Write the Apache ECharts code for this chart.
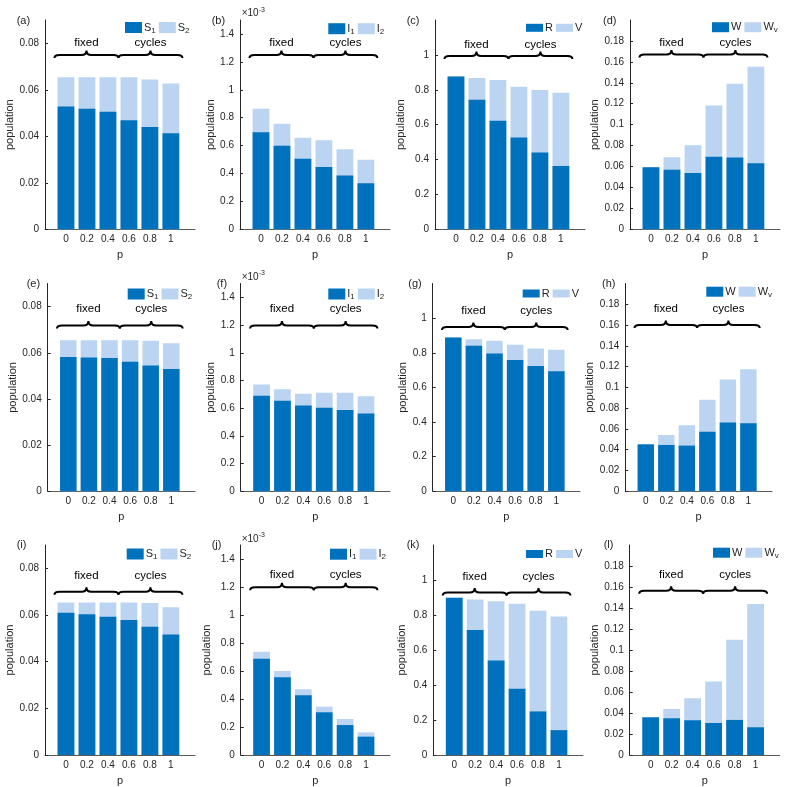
<!DOCTYPE html>
<html><head><meta charset="utf-8">
<script src="https://cdn.jsdelivr.net/npm/echarts@6/dist/echarts.min.js"></script>
<style>html,body{margin:0;padding:0;background:#fff}#c{width:787px;height:787px}</style>
</head><body><div id="c"></div>
<script>
// ---------------- data ----------------
const pValues = [0, 0.2, 0.4, 0.6, 0.8, 1];
const pTicks = [0, 0.2, 0.4, 0.6, 0.8, 1];
const yTicksS = [0, 0.02, 0.04, 0.06, 0.08];
const yTicksI = [0, 0.2, 0.4, 0.6, 0.8, 1, 1.2, 1.4];
const yTicksRV = [0, 0.2, 0.4, 0.6, 0.8, 1];
const yTicksW = [0, 0.02, 0.04, 0.06, 0.08, 0.1, 0.12, 0.14, 0.16, 0.18];
const groupLabels = ['fixed', 'cycles'];

// row 1
const aS1 = [0.0528, 0.0518, 0.0506, 0.0469, 0.0440, 0.0413];
const aS2 = [0.0126, 0.0136, 0.0148, 0.0185, 0.0204, 0.0214];
const bI1 = [0.696, 0.598, 0.505, 0.447, 0.385, 0.330];   // x 10^-3
const bI2 = [0.168, 0.158, 0.151, 0.192, 0.189, 0.168];   // x 10^-3
const cR = [0.876, 0.743, 0.622, 0.527, 0.441, 0.363];
const cV = [0, 0.124, 0.234, 0.290, 0.357, 0.420];
const dW = [0.0594, 0.0568, 0.0539, 0.0693, 0.0686, 0.0632];
const dWv = [0, 0.0121, 0.0265, 0.0491, 0.0706, 0.0922];
// row 2
const eS1 = [0.0582, 0.0579, 0.0577, 0.0561, 0.0545, 0.0530];
const eS2 = [0.0072, 0.0075, 0.0077, 0.0093, 0.0107, 0.0111];
const fI1 = [0.689, 0.653, 0.620, 0.603, 0.586, 0.562];
const fI2 = [0.082, 0.084, 0.084, 0.108, 0.125, 0.125];
const gR = [0.888, 0.840, 0.796, 0.758, 0.724, 0.693];
const gV = [0, 0.038, 0.073, 0.088, 0.101, 0.124];
const hW = [0.0452, 0.0446, 0.0440, 0.0574, 0.0661, 0.0654];
const hWv = [0, 0.0096, 0.0195, 0.0308, 0.0414, 0.0520];
// row 3
const iS1 = [0.0610, 0.0603, 0.0593, 0.0579, 0.0550, 0.0516];
const iS2 = [0.0044, 0.0051, 0.0061, 0.0075, 0.0101, 0.0117];
const jI1 = [0.688, 0.555, 0.426, 0.305, 0.214, 0.131];
const jI2 = [0.050, 0.045, 0.043, 0.040, 0.043, 0.031];
const kR = [0.898, 0.715, 0.540, 0.379, 0.249, 0.142];
const kV = [0, 0.174, 0.339, 0.485, 0.576, 0.650];
const lW = [0.0359, 0.0350, 0.0331, 0.0305, 0.0334, 0.0264];
const lWv = [0, 0.0089, 0.0210, 0.0395, 0.0763, 0.1174];

// ---------------- panels ----------------
const panelDefs = [
  {tag:'(a)', names:['S1','S2'], series:[aS1,aS2], ticks:yTicksS,  ymax:0.09},
  {tag:'(b)', names:['I1','I2'], series:[bI1,bI2], ticks:yTicksI,  ymax:1.5, exp:true},
  {tag:'(c)', names:['R','V'],   series:[cR,cV],   ticks:yTicksRV, ymax:1.2},
  {tag:'(d)', names:['W','Wv'],  series:[dW,dWv],  ticks:yTicksW,  ymax:0.2},
  {tag:'(e)', names:['S1','S2'], series:[eS1,eS2], ticks:yTicksS,  ymax:0.09},
  {tag:'(f)', names:['I1','I2'], series:[fI1,fI2], ticks:yTicksI,  ymax:1.5, exp:true},
  {tag:'(g)', names:['R','V'],   series:[gR,gV],   ticks:yTicksRV, ymax:1.2},
  {tag:'(h)', names:['W','Wv'],  series:[hW,hWv],  ticks:yTicksW,  ymax:0.2},
  {tag:'(i)', names:['S1','S2'], series:[iS1,iS2], ticks:yTicksS,  ymax:0.09},
  {tag:'(j)', names:['I1','I2'], series:[jI1,jI2], ticks:yTicksI,  ymax:1.5, exp:true},
  {tag:'(k)', names:['R','V'],   series:[kR,kV],   ticks:yTicksRV, ymax:1.2},
  {tag:'(l)', names:['W','Wv'],  series:[lW,lWv],  ticks:yTicksW,  ymax:0.2}
];

// ---------------- layout (pixels / annotation levels) ----------------
const layouts = [
  {box:[45,20,195,229.3],      gap:26, tag:[16.7,21.7],  leg:[125,27.5,11],   br:[0.075,0.080],  ex:[241.7,6.3]},
  {box:[240,20,390,229.3],     gap:21, tag:[211.7,21.7], leg:[328.3,28.7,11], br:[1.25,1.335],   ex:[241.7,6.3]},
  {box:[435,20,585,229.3],     gap:29, tag:[406.7,21.7], leg:[526,26.3,8],    br:[0.994,1.06],   ex:null},
  {box:[630,20,780,229.3],     gap:25, tag:[603,21.7],   leg:[712,26.7,10],   br:[0.167,0.178],  ex:null},
  {box:[47.7,283.5,195,491.3], gap:26, tag:[26.7,284.7], leg:[127.7,294,11],  br:[0.0718,0.079], ex:null},
  {box:[240.7,283.5,390,491.3],gap:22, tag:[216.7,284.7],leg:[328.3,294,11],  br:[1.196,1.315],  ex:[241.7,270]},
  {box:[432.7,283.5,580,491.3],gap:21, tag:[408.3,284.7],leg:[522.7,292,8],   br:[0.949,1.043],  ex:null},
  {box:[625.3,283.5,772,491.3],gap:24, tag:[602,284.7],  leg:[706.3,291.2,10],br:[0.16,0.1756],  ex:null},
  {box:[45,545,195,755],       gap:26, tag:[16.7,545.7], leg:[126.7,554,11],  br:[0.070,0.077],  ex:null},
  {box:[240.7,545,390,755],    gap:28, tag:[211.7,545.7],leg:[330,554.2,11],  br:[1.198,1.286],  ex:[241.7,532]},
  {box:[433.3,545,583,755],    gap:26, tag:[406.7,545.7],leg:[526,552.5,8],   br:[0.929,1.02],   ex:null},
  {box:[629.7,545,779.7,755],  gap:25, tag:[603.7,545.7],leg:[713,552.2,10],  br:[0.1565,0.172], ex:null}
];
const braceSpans = [[-0.11, 0.5], [0.5, 1.11]];
const X_MIN = -0.2, X_MAX = 1.23;

const FONT = '"Liberation Sans", Arial, Helvetica, sans-serif';
const TXT = '#262626';
const DARK = '#0072BD', LIGHT = '#BAD4F1';
const subs = {S1:['S','1'], S2:['S','2'], I1:['I','1'], I2:['I','2'], R:['R',''], V:['V',''], W:['W',''], Wv:['W','v']};
const fmt = v => String(parseFloat(Number(v).toFixed(4)));

function renderBrace(params, api) {
  const x0 = api.value(0), x1 = api.value(1), yb = api.value(2), yt = api.value(3), gi = api.value(4);
  const p0 = api.coord([x0, yb]), p1 = api.coord([x1, yb]), pt = api.coord([(x0 + x1) / 2, yt]);
  const L = p0[0], R = p1[0], M = (L + R) / 2, y = p0[1], hu = 4.5, hd = 3, w = 5;
  const d = `M${L},${y+hd} Q${L},${y} ${L+w},${y} L${M-w},${y} Q${M},${y} ${M},${y-hu} Q${M},${y} ${M+w},${y} L${R-w},${y} Q${R},${y} ${R},${y+hd}`;
  return {type:'group', children:[
    {type:'path', shape:{pathData:d}, style:{fill:null, stroke:'#000', lineWidth:2}},
    {type:'text', x:pt[0], y:pt[1], style:{text:groupLabels[gi], fill:'#000', font:'11.5px ' + FONT, align:'center', verticalAlign:'middle'}}
  ]};
}

const option = {animation:false, backgroundColor:'#fff', grid:[], xAxis:[], yAxis:[], series:[], legend:[], title:[]};

panelDefs.forEach((pd, k) => {
  const Lo = layouts[k];
  const [x0, y0, x1, y1] = Lo.box;
  const w = x1 - x0;
  option.grid.push({left:x0, top:y0, width:w, height:y1 - y0, containLabel:false, outerBoundsMode:'none'});
  option.xAxis.push({
    gridIndex:k, type:'value', min:X_MIN, max:X_MAX,
    name:'p', nameLocation:'middle', nameGap:20,
    nameTextStyle:{fontSize:11, color:TXT, fontFamily:FONT},
    axisLine:{show:true, onZero:false, lineStyle:{color:'#595959', width:1}},
    axisTick:{show:false}, splitLine:{show:false},
    axisLabel:{customValues:pTicks, formatter:fmt, fontSize:10, color:TXT, margin:5, fontFamily:FONT}
  });
  option.yAxis.push({
    gridIndex:k, type:'value', min:0, max:pd.ymax,
    name:'population', nameLocation:'middle', nameGap:Lo.gap,
    nameTextStyle:{fontSize:11, color:TXT, fontFamily:FONT},
    axisLine:{show:true, onZero:false, lineStyle:{color:TXT, width:1}},
    axisTick:{show:true, inside:true, length:3, customValues:pd.ticks, lineStyle:{color:TXT}},
    splitLine:{show:false},
    axisLabel:{customValues:pd.ticks, formatter:fmt, fontSize:10, color:TXT, margin:6, fontFamily:FONT}
  });
  const bw = w / (X_MAX - X_MIN) * 0.16;
  const lower = pd.series[0], upper = pd.series[1];
  // light part: full stacked height (lower + upper), drawn first
  option.series.push({
    type:'bar', name:pd.names[1], xAxisIndex:k, yAxisIndex:k,
    barWidth:bw, barGap:'-100%', silent:true, z:2,
    data:pValues.map((p, i) => [p, lower[i] + upper[i]]),
    itemStyle:{color:LIGHT}
  });
  // dark part: lower component drawn over it
  option.series.push({
    type:'bar', name:pd.names[0], xAxisIndex:k, yAxisIndex:k,
    barWidth:bw, barGap:'-100%', silent:true, z:3,
    data:pValues.map((p, i) => [p, lower[i]]),
    itemStyle:{color:DARK}
  });
  option.series.push({
    type:'custom', xAxisIndex:k, yAxisIndex:k, silent:true, clip:false, z:5,
    renderItem:renderBrace,
    data:braceSpans.map((s, gi) => [s[0], s[1], Lo.br[0], Lo.br[1], gi])
  });
  option.legend.push({
    data:pd.names, left:Lo.leg[0], top:Lo.leg[1] - Lo.leg[2] / 2,
    itemWidth:17, itemHeight:Lo.leg[2], itemGap:3, padding:0, icon:'rect',
    orient:'horizontal', selectedMode:false,
    formatter: n => subs[n][1] ? `{m|${subs[n][0]}}{s|${subs[n][1]}}` : `{m|${subs[n][0]}}`,
    textStyle:{fontFamily:FONT, fontSize:11, color:TXT, padding:[0,0,0,-3],
      rich:{m:{fontSize:11, fontFamily:FONT, color:TXT}, s:{fontSize:8, fontFamily:FONT, color:TXT, padding:[6,0,0,0]}}}
  });
  option.title.push({text:pd.tag, left:Lo.tag[0], top:Lo.tag[1] - 6, padding:0,
    textStyle:{fontSize:11, fontWeight:'normal', color:TXT, fontFamily:FONT}});
  if (pd.exp && Lo.ex) {
    option.title.push({text:'{a|×10}{b|-3}', left:Lo.ex[0], top:Lo.ex[1], padding:0,
      textStyle:{fontSize:10, fontWeight:'normal', color:TXT, fontFamily:FONT,
        rich:{a:{fontSize:10, lineHeight:14, fontFamily:FONT, color:TXT}, b:{fontSize:7, lineHeight:14, verticalAlign:'top', fontFamily:FONT, color:TXT}}}});
  }
});

const chart = echarts.init(document.getElementById('c'), null, {renderer:'canvas'});
chart.setOption(option);
</script>
</body></html>
